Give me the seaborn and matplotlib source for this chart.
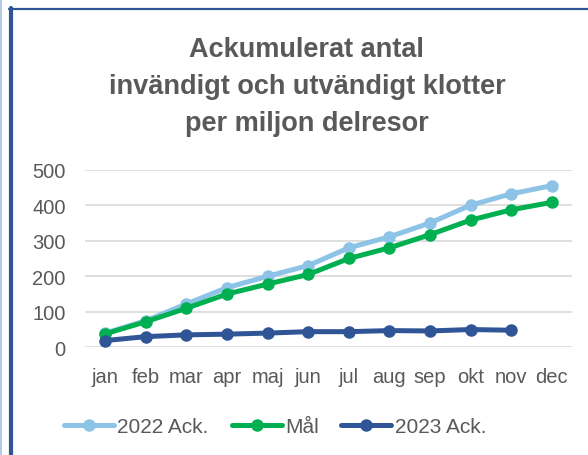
import seaborn as sns
import matplotlib.pyplot as plt
import matplotlib.lines as mlines
import pandas as pd
import numpy as np

# Months (Swedish) and accumulated values per million trips
months = ['jan', 'feb', 'mar', 'apr', 'maj', 'jun', 'jul', 'aug', 'sep', 'okt', 'nov', 'dec']
ack_2022 = [40, 75, 122, 168, 200, 230, 280, 311, 350, 400, 432, 455]
mal = [38, 72, 110, 150, 178, 205, 250, 280, 317, 358, 387, 408]
ack_2023 = [19, 30, 35, 37, 40, 44, 44, 47, 46, 50, 48, np.nan]

series_names = ['2022 Ack.', 'Mål', '2023 Ack.']
colors = ['#8DC3E7', '#00B050', '#2F5597']

data = pd.DataFrame({
    'Månad': months * 3,
    'Värde': ack_2022 + mal + ack_2023,
    'Serie': [series_names[0]] * 12 + [series_names[1]] * 12 + [series_names[2]] * 12,
}).dropna()

sns.set_style("white")
plt.rcParams['font.family'] = ['Liberation Sans Narrow', 'Liberation Sans', 'DejaVu Sans']

fig = plt.figure(figsize=(5.88, 4.56), dpi=100)
ax = fig.add_axes([0.1446, 0.2362, 0.8282, 0.3895])

sns.lineplot(
    data=data, x='Månad', y='Värde', hue='Serie',
    hue_order=series_names, palette=colors, sort=False,
    marker='o', markersize=9, markeredgewidth=0,
    linewidth=3.6, ax=ax, legend=False, zorder=3,
)

ax.set_xlim(-0.5, len(months) - 0.5)
ax.set_ylim(0, 500)
ax.set_yticks(range(0, 501, 100))
ax.set_xlabel('')
ax.set_ylabel('')
ax.grid(axis='y', color='#D9D9D9', linewidth=1.2)
ax.grid(axis='x', visible=False)
for s in ax.spines.values():
    s.set_visible(False)
ax.tick_params(axis='both', length=0, labelsize=14.5, colors='#595959',
               labelfontfamily='Liberation Sans')
ax.tick_params(axis='x', pad=14)
ax.tick_params(axis='y', pad=14)

fig.text(0.522, 0.918, 'Ackumulerat antal\ninvändigt och utvändigt klotter\nper miljon delresor',
         ha='center', va='top', fontsize=19.5, fontweight='bold', color='#595959',
         linespacing=1.55)

# Legend
handles = [mlines.Line2D([], [], color=c, linewidth=3.6, marker='o', markersize=9,
                         markeredgewidth=0) for c in colors]
fig.legend(handles, series_names, loc='center', bbox_to_anchor=(0.468, 0.062), ncol=3,
           frameon=False, handlelength=2.4, handletextpad=0.15,
           columnspacing=1.1, labelcolor='#595959',
           prop={'family': ['Liberation Sans', 'DejaVu Sans'], 'size': 15})

# Frame lines (chart box edges)
fig.add_artist(mlines.Line2D([0.5 / 588, 0.5 / 588], [0, 1], color='#A9BFE3', linewidth=1.2))
fig.add_artist(mlines.Line2D([11 / 588, 11 / 588], [0, 1 - 9 / 456], color='#2F5597', linewidth=3))
fig.add_artist(mlines.Line2D([9 / 588, 1], [1 - 10 / 456, 1 - 10 / 456], color='#2F5597', linewidth=1.6))

fig.savefig('out.png', dpi=100)
